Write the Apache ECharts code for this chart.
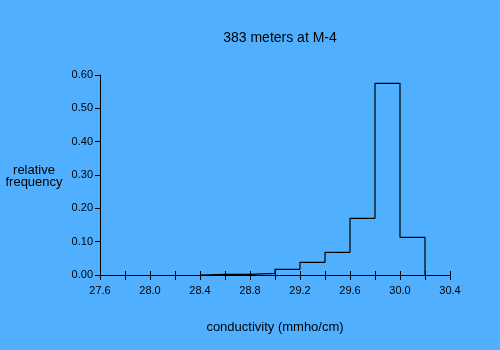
<!DOCTYPE html>
<html>
<head>
<meta charset="utf-8">
<style>
  html, body { margin: 0; padding: 0; background: #50B0FF; }
  #chart { width: 500px; height: 350px; }
</style>
<script src="https://cdn.jsdelivr.net/npm/echarts@6/dist/echarts.min.js"></script>
</head>
<body>
<div id="chart"></div>
<script>
// Histogram of conductivity readings: bin edges (mmho/cm) and relative frequencies
const binEdges = [28.4, 28.6, 28.8, 29.0, 29.2, 29.4, 29.6, 29.8, 30.0, 30.2];
const relFreq  = [0.002, 0.002, 0.005, 0.017, 0.038, 0.068, 0.170, 0.575, 0.113];

const chartTitle = '383 meters at M-4';
const xTitle = 'conductivity (mmho/cm)';
const yTitle = 'relative\nfrequency';

// Step outline of the histogram built from edges and bin heights
const outline = [[binEdges[0], 0]];
relFreq.forEach((v, i) => {
  outline.push([binEdges[i], v]);
  outline.push([binEdges[i + 1], v]);
});
outline.push([binEdges[binEdges.length - 1], 0]);

const FONT = 'Liberation Sans, Arial, sans-serif';
const chart = echarts.init(document.getElementById('chart'), null, { renderer: 'canvas' });

const xLabel = (v) => {
  const k = Math.round((v - 27.6) / 0.2);
  return k % 2 === 0 ? v.toFixed(1) : '';
};

chart.setOption({
  backgroundColor: '#50B0FF',
  animation: false,
  title: {
    text: chartTitle,
    left: 275,
    top: 26,
    textAlign: 'center',
    textStyle: { fontFamily: FONT, fontSize: 14, fontWeight: 'normal', color: '#000' }
  },
  graphic: [{
    type: 'text',
    style: {
      x: 34,
      y: 164,
      text: yTitle,
      fontFamily: FONT,
      fontSize: 13,
      fill: '#000',
      align: 'center',
      verticalAlign: 'top',
      lineHeight: 12
    }
  }],
  grid: { left: 100, right: 50, top: 75, bottom: 75, containLabel: false },
  xAxis: [{
    type: 'value',
    min: 27.6,
    max: 30.4,
    interval: 0.2,
    position: 'bottom',
    name: xTitle,
    nameLocation: 'middle',
    nameGap: 46,
    nameTextStyle: { fontFamily: FONT, fontSize: 13, color: '#000' },
    axisLine: { show: true, lineStyle: { color: '#000', width: 1 } },
    axisTick: { show: true, inside: false, length: 5, lineStyle: { color: '#000' } },
    axisLabel: { fontFamily: FONT, fontSize: 11, color: '#000', margin: 10, formatter: xLabel },
    splitLine: { show: false }
  }, {
    type: 'value',
    min: 27.6,
    max: 30.4,
    interval: 0.2,
    position: 'bottom',
    axisLine: { show: false },
    axisTick: { show: true, inside: true, length: 4, lineStyle: { color: '#000' } },
    axisLabel: { show: false },
    splitLine: { show: false }
  }],
  yAxis: {
    type: 'value',
    min: 0,
    max: 0.6,
    interval: 0.1,
    axisLine: { show: true, lineStyle: { color: '#000', width: 1 } },
    axisTick: { show: true, inside: false, length: 5, lineStyle: { color: '#000' } },
    axisLabel: { fontFamily: FONT, fontSize: 11, color: '#000', margin: 7, formatter: (v) => v.toFixed(2) },
    splitLine: { show: false }
  },
  series: [{
    type: 'line',
    data: outline,
    symbol: 'none',
    lineStyle: { color: '#000', width: 1.2 },
    silent: true
  }]
});
</script>
</body>
</html>
